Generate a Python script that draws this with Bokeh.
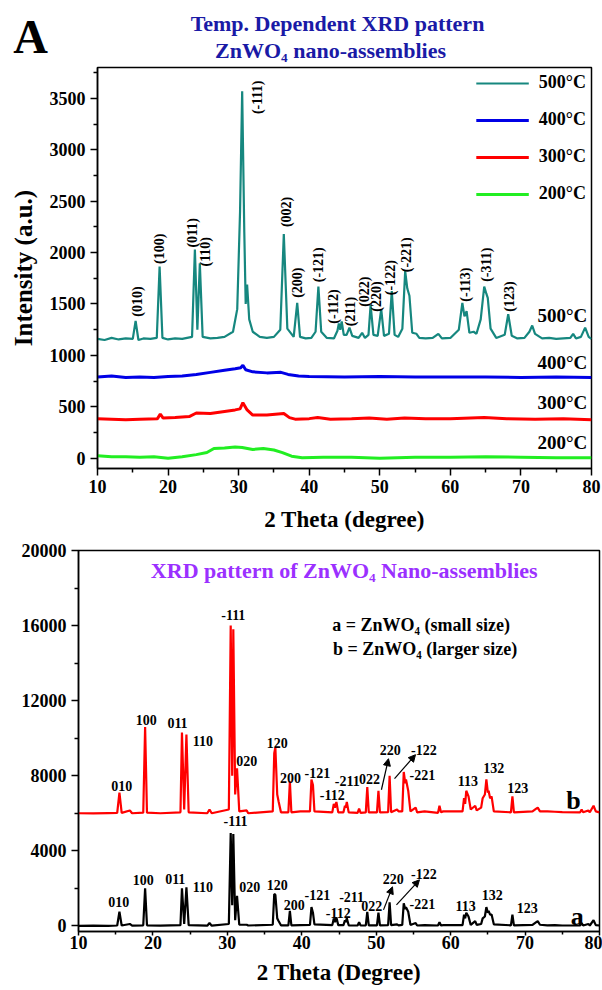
import math
from bokeh.plotting import figure
from bokeh.layouts import column
from bokeh.models import (Legend, LegendItem, Arrow, NormalHead, Range1d, FixedTicker)
from bokeh.core.properties import value
from bokeh.embed import file_html
from bokeh.resources import INLINE

# ---------------- data: panel A (temperature dependent XRD) ----------------
t500_x = [10, 11, 12, 13, 14, 15.0, 15.4, 15.8, 16.5, 17.5, 18.4, 18.8, 19.2, 20, 21, 22,
          23.4, 23.8, 24.15, 24.5, 24.9, 26, 27, 28, 29.2, 29.8, 30.2, 30.5, 30.8, 31.0,
          31.2, 31.5, 32.0, 33, 34, 35, 35.9, 36.4, 36.9, 37.8, 38.3, 38.7, 39.5, 40.3,
          40.9, 41.3, 41.7, 42.5, 43.5, 44.0, 44.2, 44.4, 44.6, 44.9, 45.3, 45.7, 46.1,
          47.0, 47.5, 47.9, 48.4, 48.7, 49.1, 49.7, 50.2, 50.6, 51.3, 51.7, 52.1, 52.6,
          53.2, 53.6, 53.9, 54.2, 54.6, 55.2, 55.6, 56.5, 57.5, 58.3, 58.8, 60, 61.2,
          61.7, 62.0, 62.3, 62.7, 63.3, 63.7, 64.3, 64.8, 65.1, 65.3, 65.7, 66.5, 67.7,
          68.2, 68.7, 69.5, 70.5, 71.2, 71.6, 72.0, 73, 74, 75, 76, 77.0, 77.4, 77.8,
          78.5, 79.1, 79.6, 80]
t500_y = [1160, 1150, 1170, 1155, 1165, 1160, 1335, 1150, 1165, 1160, 1170, 1865, 1170, 1155,
          1165, 1160, 1180, 2030, 1250, 1895, 1180, 1165, 1170, 1180, 1230, 1450, 2400, 3570,
          2200, 1500, 1690, 1350, 1230, 1180, 1170, 1180, 1250, 2180, 1260, 1180, 1510, 1180,
          1165, 1170, 1230, 1670, 1230, 1170, 1165, 1240, 1310, 1250, 1330, 1200, 1200, 1270,
          1190, 1170, 1220, 1170, 1200, 1490, 1200, 1190, 1450, 1190, 1210, 1625, 1200, 1180,
          1260, 1820, 1650, 1580, 1220, 1210, 1170, 1165, 1170, 1210, 1165, 1170, 1250, 1510,
          1380, 1430, 1220, 1230, 1210, 1350, 1670, 1600, 1560, 1260, 1170, 1200, 1400, 1190,
          1165, 1170, 1230, 1290, 1210, 1165, 1170, 1160, 1165, 1170, 1210, 1165, 1180, 1270,
          1180, 1160]

t400_x = [10, 12, 14, 16, 18, 20, 22, 24, 26, 28, 29.5, 30.3, 30.6, 31, 32, 34, 36, 37,
          38.5, 40, 45, 50, 55, 60, 65, 70, 75, 80]
t400_y = [790, 800, 785, 790, 785, 795, 800, 815, 835, 855, 870, 880, 905, 860, 840, 830,
          835, 815, 800, 795, 790, 795, 790, 790, 790, 785, 790, 785]

t300_x = [10, 12, 14, 16, 18.5, 18.9, 19.3, 21, 23, 24, 26, 28, 29.5, 30.2, 30.6, 31.2,
          32, 34, 36.4, 37.2, 38, 40, 41.2, 43, 46, 48.5, 51, 53.5, 56.5, 60, 64.8, 68,
          72, 76, 80]
t300_y = [385, 380, 375, 380, 385, 430, 390, 395, 405, 440, 435, 455, 470, 480, 540, 470,
          420, 420, 435, 395, 380, 385, 395, 380, 385, 390, 380, 390, 385, 385, 395, 385,
          380, 385, 375]

t200_x = [10, 12, 14, 16, 18, 20, 22, 24, 25.5, 26.5, 28, 29.5, 30.5, 32, 33.5, 35, 36.2,
          37.5, 39, 42, 46, 50, 55, 60, 65, 70, 75, 80]
t200_y = [25, 15, 15, 10, 15, 0, 15, 35, 55, 95, 100, 110, 105, 85, 95, 80, 55, 20, 5, 10,
          10, 0, 10, 10, 15, 10, 5, 5]

series_names = ["500°C", "400°C", "300°C", "200°C"]
series_label_y = [1388, 932, 545, 157]

top_lbl_text = ["(010)", "(100)", "(011)", "(110)", "(-111)", "(002)", "(200)", "(-121)",
                "(-112)", "(211)", "(022)", "(220)", "(-122)", "(-221)", "(-113)", "(-311)",
                "(123)"]
top_lbl_x = [15.7, 18.8, 23.5, 25.3, 32.7, 36.8, 38.3, 41.3, 43.5, 45.9, 47.8, 49.5, 51.5,
             53.8, 62.1, 65.1, 68.4]
top_lbl_y = [1523, 2037, 2192, 2008, 3510, 2395, 1707, 1882, 1475, 1426, 1620, 1572, 1756,
             1979, 1688, 1882, 1572]

x_ticks = [10, 20, 30, 40, 50, 60, 70, 80]
top_y_ticks = [0, 500, 1000, 1500, 2000, 2500, 3000, 3500]
bot_y_ticks = [0, 4000, 8000, 12000, 16000, 20000]

# ---------------- data: panel B (a = small size, b = larger size) ----------------
bot_x = [10, 12, 14, 15.2, 15.5, 15.8, 16.9, 17.2, 18.7, 18.95,
         19.2, 21, 23.7, 23.9, 24.2, 24.5, 24.8, 27.3, 27.6, 27.9,
         30.2, 30.45, 30.65, 30.8, 31.05, 31.3, 31.6, 32.6, 32.8, 36.1,
         36.3, 36.45, 36.7, 36.9, 37.2, 38.2, 38.4, 38.6, 39.8, 41.1,
         41.3, 41.5, 41.7, 44.1, 44.3, 44.45, 44.65, 44.9, 45.6, 45.8,
         45.9, 46.05, 46.3, 47.5, 47.7, 47.9, 48.6, 48.8, 49.0, 50.1,
         50.3, 50.5, 51.6, 51.8, 52.0, 52.8, 53.0, 53.5, 53.7, 53.9,
         54.0, 54.3, 54.6, 55.3, 55.5, 56.5, 58.3, 58.5, 58.7, 59.0,
         61.6, 61.8, 61.95, 62.1, 62.4, 62.7, 63.3, 63.5, 64.1, 64.3,
         64.6, 64.8, 65.0, 65.1, 65.3, 65.5, 65.8, 68.1, 68.3, 68.5,
         71.0, 71.5, 71.7, 72.0, 73, 74, 75, 77.4, 77.6, 77.8,
         78.5, 78.7, 79.2, 79.5, 80]
a_y = [0, 10, 0, 20, 750, 20, 100, 10, 30, 2000,
       30, 10, 40, 2000, 100, 2050, 40, 10, 150, 10,
       100, 4950, 1100, 4900, 300, 1600, 60, 60, 20, 60,
       1700, 1650, 400, 250, 30, 30, 800, 30, 40, 50,
       1000, 700, 80, 40, 400, 200, 450, 40, 40, 300,
       200, 400, 30, 20, 200, 20, 30, 750, 30, 30,
       700, 30, 40, 1250, 40, 80, 30, 50, 1200, 900,
       1000, 750, 50, 150, 20, 40, 20, 200, 20, 40,
       40, 600, 400, 700, 500, 50, 250, 50, 100, 400,
       500, 1000, 700, 800, 600, 600, 80, 30, 600, 30,
       50, 200, 250, 60, 30, 40, 20, 20, 150, 20,
       100, 20, 300, 40, 20]
b_y = [6000, 5990, 6010, 6020, 7100, 6020, 6150, 6000, 6030, 10600,
       6030, 6000, 6050, 10300, 6200, 10200, 6050, 6000, 6200, 6000,
       6200, 16000, 8000, 15800, 7000, 8400, 6100, 6150, 6000, 6100,
       9200, 9500, 7000, 6600, 6050, 6050, 7700, 6050, 6100, 6100,
       7800, 7500, 6100, 6050, 6500, 6300, 6600, 6050, 6050, 6400,
       6300, 6600, 6050, 6020, 6250, 6020, 6050, 7400, 6050, 6050,
       7200, 6050, 6060, 8000, 6060, 6200, 6100, 6100, 8200, 7600,
       7800, 7200, 6100, 6300, 6050, 6100, 6020, 6400, 6050, 6100,
       6100, 6800, 6500, 7200, 6900, 6200, 6400, 6150, 6300, 6800,
       7000, 7800, 7100, 7200, 6800, 6900, 6100, 6050, 6900, 6050,
       6100, 6250, 6300, 6100, 6100, 6080, 6060, 6050, 6200, 6050,
       6150, 6050, 6400, 6100, 6050]

bot_lbl_text = ["010", "100", "011", "110", "-111", "020", "120", "200", "-121", "-112",
                "-211", "022", "220", "-122", "-221", "113", "132", "123"]
bot_b_lbl_x = [15.8, 19.1, 23.3, 26.7, 30.8, 32.6, 36.7, 38.5, 42.1, 44.1, 46.1, 49.1, 51.9,
               56.4, 56.2, 62.3, 65.8, 69.0]
bot_b_lbl_y = [7466, 10986, 10826, 9866, 16586, 8800, 9760, 7893, 8160, 6986, 7733, 7840,
               9386, 9386, 8053, 7733, 8426, 7360]
bot_a_lbl_x = [15.4, 18.7, 23.0, 26.7, 31.1, 33.0, 36.7, 39.0, 42.1, 44.9, 46.7, 49.4, 52.3,
               56.4, 56.2, 62.0, 65.6, 70.3]
bot_a_lbl_y = [1280, 2453, 2506, 2080, 5600, 2080, 2186, 1120, 1653, 693, 1546, 1066, 2506,
               2773, 1173, 1066, 1653, 960]

arrow_x0 = [50.7, 52.46, 50.98, 52.72]
arrow_y0 = [7253, 7840, 853, 1120]
arrow_x1 = [51.65, 55.28, 52.19, 55.81]
arrow_y1 = [8906, 9120, 2080, 2453]

curve_tags = ["b", "a"]
curve_tag_x = [76.5, 77.0]
curve_tag_y = [6666, 480]

panel_letter = "A"
title_a = ["Temp. Dependent XRD pattern", "ZnWO₄ nano-assemblies"]
title_b = "XRD pattern of ZnWO₄ Nano-assemblies"
notes_b = ["a =  ZnWO₄ (small size)", "b = ZnWO₄ (larger size)"]

# ---------------- styling ----------------
SERIF = "Liberation Serif"
TEAL = "#16877f"
BLUE = "#0000e6"
RED = "#ff0000"
GREEN = "#22ee22"
TITLE_BLUE = "#1a1aa6"
PURPLE = "#9b30ff"
W = 602


def style(p, y_ticks, y_minor, x_minor):
    p.xgrid.visible = False
    p.ygrid.visible = False
    p.outline_line_color = "black"
    p.outline_line_width = 1.5
    p.background_fill_color = "white"
    p.border_fill_color = "white"
    p.xaxis.ticker = FixedTicker(ticks=x_ticks, minor_ticks=x_minor)
    p.yaxis.ticker = FixedTicker(ticks=y_ticks, minor_ticks=y_minor)
    for ax in (p.xaxis, p.yaxis):
        ax.axis_line_width = 1.5
        ax.major_tick_line_width = 1.5
        ax.minor_tick_line_width = 1.5
        ax.major_tick_in = 0
        ax.major_tick_out = 7
        ax.minor_tick_in = 0
        ax.minor_tick_out = 4
        ax.major_label_text_font = SERIF
        ax.major_label_text_font_style = "bold"
        ax.major_label_text_font_size = "18px"
        ax.major_label_text_color = "black"
        ax.axis_label_text_font = SERIF
        ax.axis_label_text_font_style = "bold"
        ax.axis_label_text_color = "black"


# ================= header strip (panel letter + title of panel A) =================
hdr = figure(frame_width=W, frame_height=62, min_border_left=0, min_border_right=0,
             min_border_top=0, min_border_bottom=0,
             x_range=Range1d(0, W), y_range=Range1d(62, 0),
             output_backend="svg", toolbar_location=None)
hdr.frame_align = False
hdr.axis.visible = False
hdr.grid.visible = False
hdr.outline_line_color = None
hdr.text(x=[30], y=[36], text=[panel_letter], text_font=value(SERIF),
         text_font_style="bold", text_font_size="48px", text_align="center",
         text_baseline="middle", text_color="black")
hdr.text(x=[337, 330], y=[23, 49.5], text=title_a, text_font=value(SERIF),
         text_font_style="bold", text_font_size="22px", text_align="center",
         text_baseline="middle", text_color=TITLE_BLUE)

# ================= panel A =================
p1 = figure(frame_width=494, frame_height=401, min_border_left=97, min_border_right=11,
            min_border_top=5, min_border_bottom=71,
            x_range=Range1d(10, 80), y_range=Range1d(-100, 3800),
            output_backend="svg", toolbar_location=None)
p1.frame_align = False
style(p1, top_y_ticks, list(range(250, 3800, 500)), [15, 25, 35, 45, 55, 65, 75])
p1.xaxis.axis_label = "2 Theta (degree)"
p1.xaxis.axis_label_text_font_size = "23px"
p1.xaxis.axis_label_standoff = 11
p1.xaxis.major_label_standoff = 4
p1.yaxis.axis_label = "Intensity (a.u.)"
p1.yaxis.axis_label_text_font_size = "25px"
p1.yaxis.axis_label_standoff = 10
p1.yaxis.major_label_standoff = 5

r200 = p1.line(t200_x, t200_y, line_color=GREEN, line_width=3)
r300 = p1.line(t300_x, t300_y, line_color=RED, line_width=3)
r400 = p1.line(t400_x, t400_y, line_color=BLUE, line_width=3)
r500 = p1.line(t500_x, t500_y, line_color=TEAL, line_width=2.2)

p1.text(x=top_lbl_x, y=top_lbl_y, text=top_lbl_text, angle=math.pi / 2,
        text_font=value(SERIF), text_font_style="bold", text_font_size="14px",
        text_align="center", text_baseline="middle", text_color="black")

p1.text(x=[79.4] * 4, y=series_label_y, text=series_names,
        text_font=value(SERIF), text_font_style="bold", text_font_size="19px",
        text_align="right", text_baseline="middle", text_color="black")

legend = Legend(items=[LegendItem(label=series_names[0], renderers=[r500]),
                       LegendItem(label=series_names[1], renderers=[r400]),
                       LegendItem(label=series_names[2], renderers=[r300]),
                       LegendItem(label=series_names[3], renderers=[r200])],
                location="top_right", margin=5, padding=0, spacing=16,
                glyph_width=53, glyph_height=20, label_height=20, label_standoff=10,
                label_text_font=SERIF, label_text_font_style="bold",
                label_text_font_size="18px", label_text_color="black",
                border_line_alpha=0, background_fill_alpha=0)
p1.add_layout(legend)

# ================= panel B =================
p2 = figure(frame_width=521, frame_height=381, min_border_left=78, min_border_right=3,
            min_border_top=11, min_border_bottom=60,
            x_range=Range1d(10, 80), y_range=Range1d(-300, 20000),
            output_backend="svg", toolbar_location=None)
p2.frame_align = False
style(p2, bot_y_ticks, [2000, 6000, 10000, 14000, 18000], [15, 25, 35, 45, 55, 65, 75])
p2.xaxis.major_tick_out = 4
p2.xaxis.minor_tick_out = 3
p2.xaxis.major_label_standoff = 0
p2.xaxis.axis_label = "2 Theta (Degree)"
p2.xaxis.axis_label_text_font_size = "23px"
p2.xaxis.axis_label_standoff = 8

p2.line(bot_x, b_y, line_color=RED, line_width=2.2)
p2.line(bot_x, a_y, line_color="black", line_width=2.2)

p2.text(x=bot_b_lbl_x, y=bot_b_lbl_y, text=bot_lbl_text, text_font=value(SERIF),
        text_font_style="bold", text_font_size="14px", text_align="center",
        text_baseline="middle", text_color="black")
p2.text(x=bot_a_lbl_x, y=bot_a_lbl_y, text=bot_lbl_text, text_font=value(SERIF),
        text_font_style="bold", text_font_size="14px", text_align="center",
        text_baseline="middle", text_color="black")
p2.text(x=curve_tag_x, y=curve_tag_y, text=curve_tags, text_font=value(SERIF),
        text_font_style="bold", text_font_size="26px", text_align="center",
        text_baseline="middle", text_color="black")

for i in range(len(arrow_x0)):
    p2.add_layout(Arrow(end=NormalHead(size=7, fill_color="black", line_color="black"),
                        x_start=arrow_x0[i], y_start=arrow_y0[i],
                        x_end=arrow_x1[i], y_end=arrow_y1[i],
                        line_color="black", line_width=1.2))

p2.text(x=[45.7], y=[18934], text=[title_b], text_font=value(SERIF),
        text_font_style="bold", text_font_size="22px", text_align="center",
        text_baseline="middle", text_color=PURPLE)
p2.text(x=[44.1, 44.2], y=[16053, 14773], text=notes_b, text_font=value(SERIF),
        text_font_style="bold", text_font_size="18px", text_align="left",
        text_baseline="middle", text_color="black")

layout = column(hdr, p1, p2, spacing=0)
open("out.html", "w").write(file_html(layout, INLINE))
